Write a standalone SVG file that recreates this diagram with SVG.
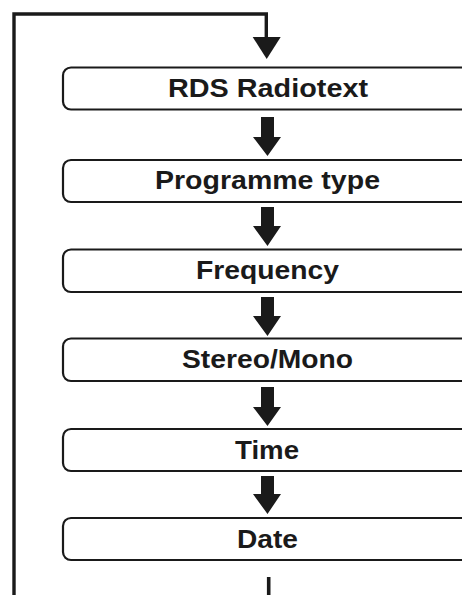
<svg xmlns="http://www.w3.org/2000/svg" width="462" height="595" viewBox="0 0 462 595">
<style>
.box{fill:#fff;stroke:#1a1a1a;stroke-width:2.2}
.lbl{font-family:"Liberation Sans",Arial,sans-serif;font-weight:bold;font-size:26px;fill:#1a1a1a;text-anchor:middle}
.line{fill:none;stroke:#1a1a1a;stroke-width:3.4}
.arr{fill:#1a1a1a}
</style>
<rect width="462" height="595" fill="#fff"/>
<g id="connectors">
<path class="line" d="M14,595 V14 H266.3 V38"/>
<polygon class="arr" points="252.7,37 280.7,37 266.7,59"/>
<path class="arr" d="M261,117 H274 V137 H281 L267.5,156 L253,137 H261 Z"/>
<path class="arr" d="M261,207 H274 V226 H281 L267.5,246 L253,226 H261 Z"/>
<path class="arr" d="M261,297 H274 V316 H281 L267.5,336 L253,316 H261 Z"/>
<path class="arr" d="M261,387 H274 V407 H281 L267.5,426 L253,407 H261 Z"/>
<path class="arr" d="M261,476 H274 V494 H281 L267.5,514 L253,494 H261 Z"/>
<line x1="268.7" y1="577" x2="268.7" y2="595" stroke="#1a1a1a" stroke-width="3.6"/>
</g>
<g id="n1"><rect class="box" x="63" y="67.5" width="420" height="42" rx="8"/><text class="lbl" x="268" y="97.3" textLength="200" lengthAdjust="spacingAndGlyphs">RDS Radiotext</text></g>
<g id="n2"><rect class="box" x="63" y="160" width="420" height="42" rx="8"/><text class="lbl" x="267.5" y="188.8" textLength="225" lengthAdjust="spacingAndGlyphs">Programme type</text></g>
<g id="n3"><rect class="box" x="63" y="249.5" width="420" height="42.5" rx="8"/><text class="lbl" x="267.5" y="279" textLength="143" lengthAdjust="spacingAndGlyphs">Frequency</text></g>
<g id="n4"><rect class="box" x="63" y="338.5" width="420" height="42.5" rx="8"/><text class="lbl" x="267.5" y="368" textLength="171" lengthAdjust="spacingAndGlyphs">Stereo/Mono</text></g>
<g id="n5"><rect class="box" x="63" y="429" width="420" height="42" rx="8"/><text class="lbl" x="267" y="458.5" textLength="64" lengthAdjust="spacingAndGlyphs">Time</text></g>
<g id="n6"><rect class="box" x="63" y="518" width="420" height="42" rx="8"/><text class="lbl" x="267.5" y="547.5" textLength="61" lengthAdjust="spacingAndGlyphs">Date</text></g>
</svg>
